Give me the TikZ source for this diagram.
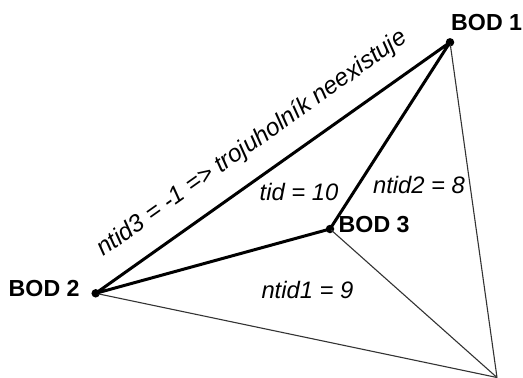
\documentclass[tikz,border=0pt]{standalone}
\usepackage{fontspec}
\setmainfont{Liberation Sans}
\begin{document}
\begin{tikzpicture}[x=1pt,y=-1pt,
  pt/.style={circle,fill=black,inner sep=0pt,minimum size=8.5pt},
  edge/.style={line width=3pt,line cap=round,line join=round},
  thin edge/.style={line width=1.1pt,draw=black!80},
  bodlabel/.style={inner sep=0pt,anchor=base west,font=\fontsize{23.2}{25}\selectfont\bfseries},
  idlabel/.style={inner sep=0pt,anchor=base,font=\fontsize{23.8}{26}\selectfont\itshape}]
\useasboundingbox (0,0) rectangle (523,378);

% vertices
\node[pt] (b1) at (450,42.3) {};
\node[pt] (b2) at (95.7,293.3) {};
\node[pt] (b3) at (330,229) {};
\coordinate (b4) at (497,377.5);

% neighbouring triangles
\draw[thin edge] (b1.center) -- (b4);
\draw[thin edge] (b2.center) -- (b4);
\draw[thin edge] (b3.center) -- (b4);

% the triangle itself
\draw[edge] (b2.center) -- (b1.center) -- (b3.center) -- cycle;

% vertex names
\node[bodlabel] (l1) at (451,30) {BOD 1};
\node[bodlabel] (l2) at (8.5,296.5) {BOD 2};
\node[bodlabel] (l3) at (338.5,232.3) {BOD 3};

% triangle identifiers
\node[idlabel] (tid) at (299,200) {tid = 10};
\node[idlabel] (n2) at (419,193) {ntid2 = 8};
\node[idlabel] (n1) at (307.5,298) {ntid1 = 9};
\node[idlabel,rotate=35.3,font=\fontsize{24.4}{26}\selectfont\itshape] (n3) at (256,149) {ntid3 = -1 => trojuholník neexistuje};
\end{tikzpicture}
\end{document}
